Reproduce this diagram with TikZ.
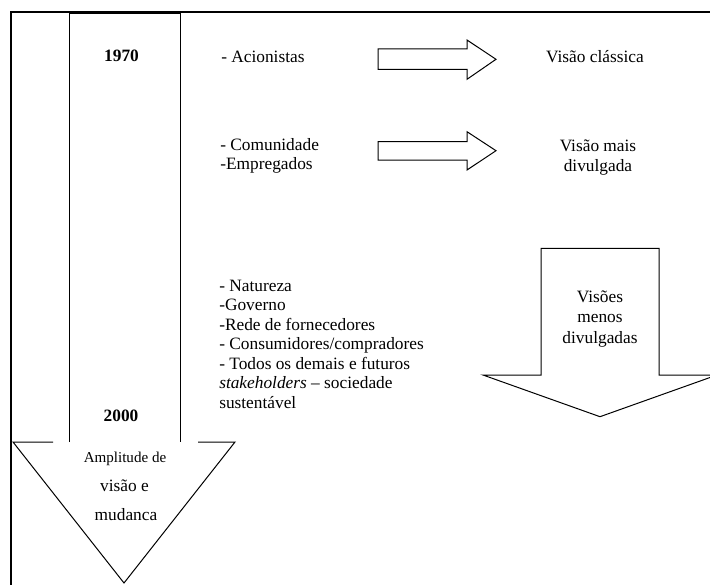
\documentclass[tikz,border=0pt]{standalone}
\usepackage{fontspec}
\setmainfont{Liberation Serif}
\begin{document}
\begin{tikzpicture}[x=0.75pt,y=-0.75pt,
  txt/.style={font=\fontsize{13}{14.6}\selectfont, inner sep=0pt, align=left, anchor=base west},
  ctxt/.style={font=\fontsize{13}{14.6}\selectfont, inner sep=0pt, align=center, anchor=base},
  yr/.style={font=\fontsize{13}{14.6}\selectfont\bfseries, inner sep=0pt, anchor=base},
  outl/.style={draw=black, line width=0.75pt, line join=miter},
  frm/.style={draw=black, line width=1.3pt}]
\useasboundingbox (0,0) rectangle (710,585);
\clip (0,0) rectangle (710,585);
% frame
\draw[frm] (11,590) -- (11,12) -- (720,12);
% left big arrow
\draw[outl] (69,442) -- (69,14) -- (180,14) -- (180,442);
\draw[outl] (53,442) -- (13,442) -- (124,583) -- (235,442) -- (198,442);
% right arrows
\draw[outl] (378,49) -- (467,49) -- (467,40) -- (496,59.3) -- (467,79.3) -- (467,69.3) -- (378,69.3) -- cycle;
\draw[outl] (378,141.7) -- (467,141.7) -- (467,131.7) -- (496,150.7) -- (467,170) -- (467,160) -- (378,160) -- cycle;
% down arrow right
\draw[outl] (541,248.3) -- (659,248.3) -- (659,375) -- (717,375) -- (600,416.7) -- (483,375) -- (541,375) -- cycle;
% texts
\node[yr] (y1970) at (121.5,62) {1970};
\node[yr] (y2000) at (121,421) {2000};
\node[ctxt, font=\fontsize{11.3}{13}\selectfont] (amp1) at (125,462.5) {Amplitude de};
\node[ctxt] (amp2) at (124.5,491) {visão e};
\node[ctxt] (amp3) at (126,520) {mudanca};
\node[txt] (acion) at (221,62.5) {- Acionistas};
\node[txt, font=\fontsize{13}{14.3}\selectfont] (comun) at (220,169.5) {- Comunidade\\-Empregados};
\node[txt] (natur) at (219,408) {- Natureza\\-Governo\\-Rede de fornecedores\\- Consumidores/compradores\\- Todos os demais e futuros\\\textit{stakeholders} – sociedade\\sustentável};
\node[ctxt] (vclass) at (595,62.5) {Visão clássica};
\node[ctxt, font=\fontsize{13}{14.3}\selectfont] (vmais) at (598,171) {Visão mais\\divulgada};
\node[ctxt, font=\fontsize{13}{15.4}\selectfont] (vmenos) at (600,343.5) {Visões\\menos\\divulgadas};
\end{tikzpicture}
\end{document}
